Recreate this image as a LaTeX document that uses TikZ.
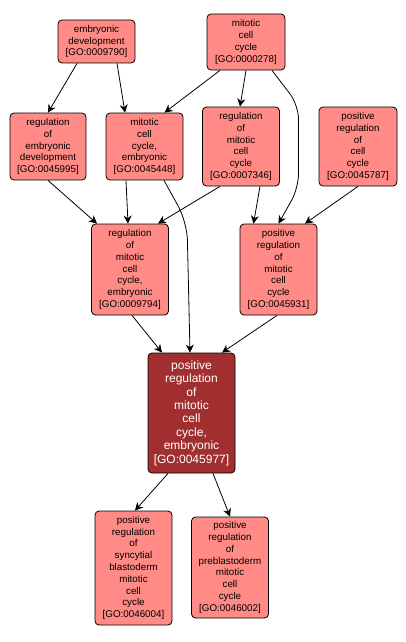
\documentclass[tikz,border=0pt]{standalone}
\usepackage{fontspec}
\setmainfont{Liberation Sans}
\usetikzlibrary{arrows.meta}
\definecolor{salm}{RGB}{255,138,134}
\definecolor{focalred}{RGB}{161,47,47}
\tikzset{
  gobox/.style={draw=black, fill=salm, rounded corners=4pt, align=center,
    font=\fontsize{9.8}{11.8}\selectfont, inner sep=1pt, line width=0.8pt},
  focalbox/.style={gobox, fill=focalred, text=white, font=\fontsize{12}{13.4}\selectfont},
  arr/.style={-{Stealth[length=8pt,width=8pt,inset=2.5pt]}, line width=0.8pt, black},
}
\begin{document}
\begin{tikzpicture}[x=1pt,y=-1pt]
\useasboundingbox (0,0) rectangle (406,642);
\node[gobox, minimum width=77pt, minimum height=43pt] (A) at (96.5,41.5) {embryonic\\development\\{[GO:0009790]}};
\node[gobox, minimum width=78pt, minimum height=56pt] (B) at (246,42) {mitotic\\cell\\cycle\\{[GO:0000278]}};
\node[gobox, minimum width=76pt, minimum height=67pt] (C) at (48,146.5) {regulation\\of\\embryonic\\development\\{[GO:0045995]}};
\node[gobox, minimum width=77pt, minimum height=67pt] (D) at (144.5,146.5) {mitotic\\cell\\cycle,\\embryonic\\{[GO:0045448]}};
\node[gobox, minimum width=77pt, minimum height=79pt] (E) at (241,146.5) {regulation\\of\\mitotic\\cell\\cycle\\{[GO:0007346]}};
\node[gobox, minimum width=78pt, minimum height=79pt] (F) at (358,146.5) {positive\\regulation\\of\\cell\\cycle\\{[GO:0045787]}};
\node[gobox, minimum width=77pt, minimum height=91pt] (G) at (130,269.5) {regulation\\of\\mitotic\\cell\\cycle,\\embryonic\\{[GO:0009794]}};
\node[gobox, minimum width=77pt, minimum height=91pt] (H) at (278.5,269.5) {positive\\regulation\\of\\mitotic\\cell\\cycle\\{[GO:0045931]}};
\node[focalbox, minimum width=87pt, minimum height=120pt] (I) at (191.5,413) {positive\\regulation\\of\\mitotic\\cell\\cycle,\\embryonic\\{[GO:0045977]}};
\node[gobox, minimum width=77pt, minimum height=114pt] (J) at (133.5,568) {positive\\regulation\\of\\syncytial\\blastoderm\\mitotic\\cell\\cycle\\{[GO:0046004]}};
\node[gobox, minimum width=77pt, minimum height=101pt] (K) at (230,567.5) {positive\\regulation\\of\\preblastoderm\\mitotic\\cell\\cycle\\{[GO:0046002]}};
\draw[arr] ([xshift=-19.5pt]A.south) -- (C.north);
\draw[arr] ([xshift=20.5pt]A.south) -- ([xshift=-19.5pt]D.north);
\draw[arr] ([xshift=-26pt]B.south) -- ([xshift=20pt]D.north);
\draw[arr] (B.south) -- ([xshift=-1pt]E.north);
\draw[arr, rounded corners=14pt] ([xshift=26pt]B.south) -- (298.5,105) -- (298.5,188) -- (H.north);
\draw[arr] (C.south) -- ([xshift=-33pt]G.north);
\draw[arr] ([xshift=-18.5pt]D.south) -- ([xshift=-2pt]G.north);
\draw[arr, rounded corners=18pt] ([xshift=19.5pt]D.south) -- (187,222) -- ([xshift=-1.5pt]I.north);
\draw[arr] ([xshift=-21pt]E.south) -- ([xshift=28pt]G.north);
\draw[arr] ([xshift=19pt]E.south) -- ([xshift=-25pt]H.north);
\draw[arr] (F.south) -- ([xshift=26.5pt]H.north);
\draw[arr] ([xshift=2pt]G.south) -- ([xshift=-29.5pt]I.north);
\draw[arr] ([xshift=-1.5pt]H.south) -- ([xshift=30.5pt]I.north);
\draw[arr] ([xshift=-23.5pt]I.south) -- ([xshift=1.5pt]J.north);
\draw[arr] ([xshift=21.5pt]I.south) -- (K.north);
\end{tikzpicture}
\end{document}
